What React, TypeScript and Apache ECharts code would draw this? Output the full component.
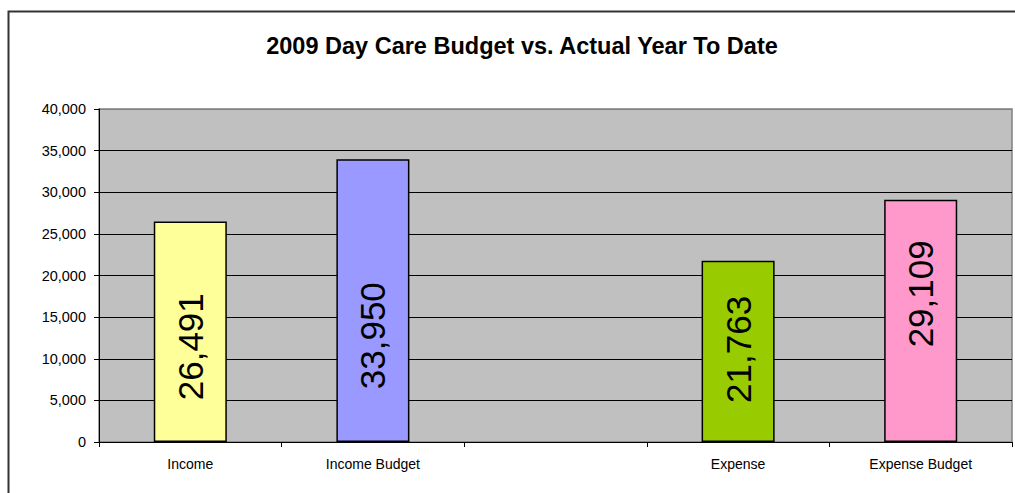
import React, { useEffect, useRef } from "react";
import * as echarts from "echarts";

const titleText = "2009 Day Care Budget vs. Actual Year To Date";
const categories = ["Income", "Income Budget", "", "Expense", "Expense Budget"];
const values: (number | null)[] = [26491, 33950, null, 21763, 29109];
const barColors = ["#FFFF99", "#9999FF", "#FFFFFF", "#99CC00", "#FF99CC"];
const yMin = 0;
const yMax = 40000;
const yInterval = 5000;

const FONT = "Liberation Sans, Arial, sans-serif";
// vertical nudges (screen px, downward) of value labels, mimicking the original rendering
const labelNudge = [15, 35, 0, -2, -27];

export default function App() {
  const ref = useRef<HTMLDivElement>(null);
  useEffect(() => {
    if (!ref.current) return;
    const chart = echarts.init(ref.current, null, { renderer: "svg" });
    const fmt = (v: number) => v.toLocaleString("en-US");
    chart.setOption({
      animation: false,
      backgroundColor: "#FFFFFF",
      title: {
        text: titleText,
        left: 517,
        top: 29,
        textAlign: "center",
        textStyle: { fontFamily: FONT, fontSize: 23.5, fontWeight: "bold", color: "#000" },
      },
      graphic: [
        {
          type: "rect",
          shape: { x: 8.5, y: 11.5, width: 1200, height: 1000 },
          style: { fill: "none", stroke: "#333", lineWidth: 2 },
          silent: true,
          z: -1,
        },
      ],
      grid: {
        left: 99,
        top: 109,
        right: 3,
        bottom: 51,
        show: true,
        backgroundColor: "#C0C0C0",
        borderColor: "#808080",
        borderWidth: 1.5,
      },
      xAxis: {
        type: "category",
        data: categories,
        axisLine: { show: true, lineStyle: { color: "#000", width: 1 } },
        axisTick: { show: true, alignWithLabel: false, length: 5, lineStyle: { color: "#000" } },
        axisLabel: { fontFamily: FONT, fontSize: 14, color: "#000", margin: 15, interval: 0 },
      },
      yAxis: {
        type: "value",
        min: yMin,
        max: yMax,
        interval: yInterval,
        axisLine: { show: true, lineStyle: { color: "#000", width: 1 } },
        axisTick: { show: true, length: 5, lineStyle: { color: "#000" } },
        axisLabel: { fontFamily: FONT, fontSize: 14.5, color: "#000", margin: 13, formatter: (v: number) => fmt(v) },
        splitLine: {
          show: true,
          lineStyle: {
            color: ["#000", "#000", "#000", "#000", "#000", "#000", "#000", "#000", "#808080"],
            width: 1,
          },
        },
      },
      series: [
        {
          type: "bar",
          barWidth: "40%",
          data: values.map((v, i) => ({
            value: v,
            itemStyle: { color: barColors[i], borderColor: "#000", borderWidth: 1.5 },
            label: { offset: [-labelNudge[i], 0] },
          })),
          label: {
            show: true,
            position: "inside",
            rotate: 90,
            align: "center",
            verticalAlign: "middle",
            fontFamily: FONT,
            fontSize: 35,
            color: "#000",
            formatter: (p: any) => fmt(p.value),
          },
        },
      ],
    });
    return () => chart.dispose();
  }, []);
  return (
    <div
      ref={ref}
      style={{ position: "absolute", left: 0, top: 0, width: 1015, height: 493 }}
    />
  );
}
